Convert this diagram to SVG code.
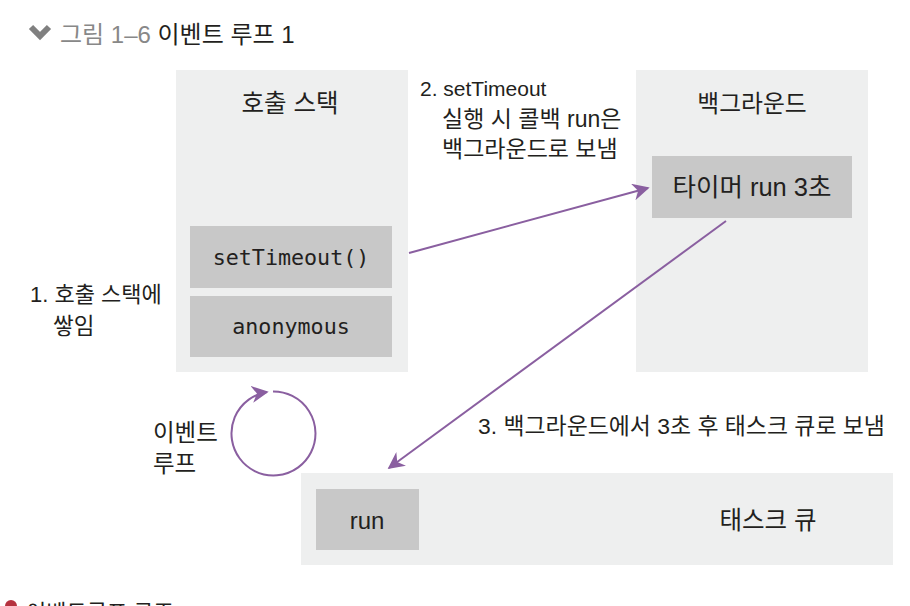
<svg xmlns="http://www.w3.org/2000/svg" width="910" height="606" viewBox="0 0 910 606">
<style>
.panel{fill:#eeefef}
.box{fill:#c8c8c8}
.t{font-family:"Liberation Sans","Noto Sans CJK KR",sans-serif;fill:#231f20}
.m{font-family:"DejaVu Sans Mono","Liberation Mono",monospace;fill:#231f20;font-size:21.7px}
.c{stroke:#8a5fa0;stroke-width:2;fill:none}
</style>
<defs>
<marker id="ahb" viewBox="0 0 10 10" refX="9" refY="5" markerWidth="17" markerHeight="17" markerUnits="userSpaceOnUse" orient="auto">
<path d="M0,0 L10,5 L0,10 L3,5 z" fill="#8a5fa0"/>
</marker>
</defs>
<rect width="910" height="606" fill="#fff"/>
<g id="title">
<path d="M31,27 L40,36 L49,27" stroke="#808080" stroke-width="6" fill="none" stroke-linejoin="miter"/>
<text x="60" y="43" class="t" font-size="24"><tspan fill="#888">그림 1–6</tspan> 이벤트 루프 1</text>
</g>
<g id="callstack">
<rect class="panel" x="176" y="70" width="232" height="302"/>
<text class="t" x="290" y="112" font-size="24.5" text-anchor="middle">호출 스택</text>
</g>
<g id="setTimeoutFrame">
<rect class="box" x="190" y="226" width="202" height="62"/>
<text class="m" x="291" y="265" text-anchor="middle">setTimeout()</text>
</g>
<g id="anonymousFrame">
<rect class="box" x="190" y="296" width="202" height="61"/>
<text class="m" x="291" y="334" text-anchor="middle">anonymous</text>
</g>
<g id="background">
<rect class="panel" x="636" y="70" width="232" height="302"/>
<text class="t" x="752" y="112" font-size="23.8" text-anchor="middle">백그라운드</text>
</g>
<g id="timer">
<rect class="box" x="652" y="156" width="200" height="62"/>
<text class="t" x="752" y="196" font-size="25.5" text-anchor="middle">타이머 run 3초</text>
</g>
<g id="taskqueue">
<rect class="panel" x="301" y="473" width="592" height="92"/>
<text class="t" x="768" y="529" font-size="24.5" text-anchor="middle">태스크 큐</text>
</g>
<g id="runTask">
<rect class="box" x="316" y="489" width="103" height="61"/>
<text class="t" x="367" y="529" font-size="24" text-anchor="middle">run</text>
</g>
<g id="labels">
<text class="t" x="420" y="96" font-size="21">2. setTimeout</text>
<text class="t" x="442" y="127" font-size="23">실행 시 콜백 run은</text>
<text class="t" x="442" y="157" font-size="23">백그라운드로 보냄</text>
<text class="t" x="30" y="302" font-size="22">1. 호출 스택에</text>
<text class="t" x="53" y="334" font-size="22.5">쌓임</text>
<text class="t" x="153" y="441" font-size="23.5">이벤트</text>
<text class="t" x="153" y="472" font-size="23.5">루프</text>
<text class="t" x="478" y="434" font-size="22.9">3. 백그라운드에서 3초 후 태스크 큐로 보냄</text>
</g>
<g id="connectors">
<line class="c" x1="409" y1="253" x2="648" y2="188" marker-end="url(#ahb)"/>
<line class="c" x1="726" y1="221" x2="389" y2="468" marker-end="url(#ahb)"/>
<path class="c" d="M273,391.5 A42,42 0 1 1 267,392" marker-end="url(#ahb)"/>
</g>
<g id="footer">
<circle cx="11" cy="606" r="6" fill="#b5323f"/>
<text class="t" x="26" y="620" font-size="22">이벤트루프 구조</text>
</g>
</svg>
